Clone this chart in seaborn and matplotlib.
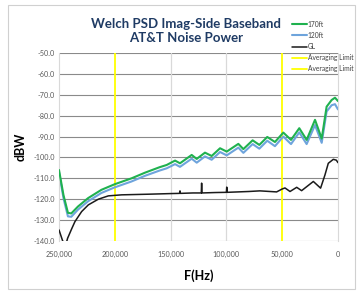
import matplotlib
matplotlib.use("Agg")
import matplotlib.pyplot as plt
import seaborn as sns
import pandas as pd
from matplotlib.patches import Rectangle

# ---------------- data ----------------
freq_170 = [250000, 246000, 242000, 239000, 233000, 224000, 212000, 200000, 185000, 173000,
            160000, 153500, 146000, 141600, 131100, 126600, 119200, 113200, 105700, 99700,
            89300, 84800, 76500, 70500, 63400, 56500, 49000, 42100, 34700, 28100,
            20600, 14600, 10200, 5700, 2700, 0]
val_170 = [-106, -118, -126.5, -126.8, -123.5, -119.5, -115.5, -112.8, -110, -107.3,
           -104.7, -103.6, -101.5, -102.8, -98.8, -100.7, -97.7, -99.3, -95.6, -97.2,
           -93.5, -96, -91.8, -94, -90.2, -92.6, -88.1, -91.6, -86, -91.6,
           -82, -91, -75.7, -72.5, -71.4, -73]
val_120 = [-107, -119.5, -128.2, -128.4, -125, -121, -117, -114.3, -111.5, -108.8,
           -106.3, -105.2, -103.2, -104.5, -100.6, -102.5, -99.5, -101.1, -97.4, -99,
           -95.3, -97.8, -93.6, -95.8, -92, -94.6, -90, -93.6, -88, -93.6,
           -84.5, -93, -78, -75, -74.5, -77]

freq_gl = [250000, 247000, 244500, 242300, 238500, 235700, 229700, 223700, 214800, 205800,
           193800, 170000, 150000, 142000, 141600, 141200, 130000, 122500, 122200, 121900,
           110000, 100000, 99700, 99400, 80000, 70000, 61000, 55000, 50000, 47500,
           43000, 37000, 32600, 22100, 15600, 11700, 8700, 4200, 1500, 0]
val_gl = [-134.7, -139.5, -143, -138.7, -134, -130.7, -125.9, -122.7, -120, -118.4,
          -117.9, -117.6, -117.3, -117.2, -116, -117.2, -117, -117, -112.3, -117,
          -116.8, -116.7, -114.2, -116.7, -116.3, -116, -116.3, -116.5, -115.1, -114.6,
          -116.3, -114.3, -115.9, -111.5, -114.7, -108.4, -102.8, -100.9, -101.3, -102.5]

avg_limits = [200000, 50000]

y_ticks = [-140, -130, -120, -110, -100, -90, -80, -70, -60, -50]
x_ticks = [250000, 200000, 150000, 100000, 50000, 0]
x_ticklabels = ["250,000", "200,000", "150,000", "100,000", "50,000", "0"]

# ---------------- figure ----------------
sns.set_theme(style="white")
plt.rcParams['font.family'] = ['Lato', 'DejaVu Sans']

fig = plt.figure(figsize=(3.6, 2.92), dpi=100)
fig.patch.set_facecolor("white")
fig.add_artist(Rectangle((8/360, 1-289/292), 347/360, 284/292, transform=fig.transFigure,
                         fill=False, edgecolor="#d0d0d0", linewidth=0.8))

ax = fig.add_axes([59/360, 1-241/292, 279/360, 188/292])

df_170 = pd.DataFrame({"f": freq_170, "v": val_170})
df_120 = pd.DataFrame({"f": freq_170, "v": val_120})
df_gl = pd.DataFrame({"f": freq_gl, "v": val_gl})

for yt in y_ticks:
    ax.axhline(yt, color="#8a8a8a", lw=0.8, zorder=0)
for xt in [150000, 100000]:
    ax.axvline(xt, color="#d9d9d9", lw=0.9, zorder=0)

sns.lineplot(data=df_170, x="f", y="v", ax=ax, color="#1fb14f", lw=1.5, label="170ft",
             sort=False, zorder=3)
sns.lineplot(data=df_120, x="f", y="v", ax=ax, color="#6ea4dc", lw=1.5, label="120ft",
             sort=False, zorder=2)
sns.lineplot(data=df_gl, x="f", y="v", ax=ax, color="#1a1a1a", lw=1.1, label="GL",
             sort=False, zorder=4)
for a in avg_limits:
    ax.axvline(a, color="#ffff00", lw=1.3, label="Averaging Limit", zorder=1)

ax.set_xlim(250000, 0)
ax.set_ylim(-140, -50)
ax.set_yticks(y_ticks)
ax.set_yticklabels([f"{t:.1f}" for t in y_ticks])
ax.set_xticks(x_ticks)
ax.set_xticklabels(x_ticklabels)
ax.tick_params(axis="y", labelsize=5.2, labelcolor="#595959", length=0, pad=3)
ax.tick_params(axis="x", labelsize=5.2, labelcolor="#595959", length=0, pad=7)

for s in ["left", "right"]:
    ax.spines[s].set_color("#d9d9d9")
    ax.spines[s].set_linewidth(0.8)
for s in ["top", "bottom"]:
    ax.spines[s].set_visible(False)

ax.set_xlabel("F(Hz)", fontsize=9, fontweight="bold", color="black", labelpad=8)
ax.set_ylabel("dBW", fontsize=9, fontweight="bold", color="black", labelpad=5)

leg = ax.legend(loc="upper left", bbox_to_anchor=(289/360, 1-18/292), bbox_transform=fig.transFigure,
                frameon=False, fontsize=4.8, handlelength=2.3, handletextpad=0.1,
                labelspacing=0.62, borderaxespad=0)
for t in leg.get_texts():
    t.set_color("#404040")

fig.text(186/360, 1-31/292, "Welch PSD Imag-Side Baseband\nAT&T Noise Power", ha="center",
         va="center", fontsize=9.5, fontweight="bold", color="#1f3b64", linespacing=1.25)

fig.savefig("out.png", dpi=100)
